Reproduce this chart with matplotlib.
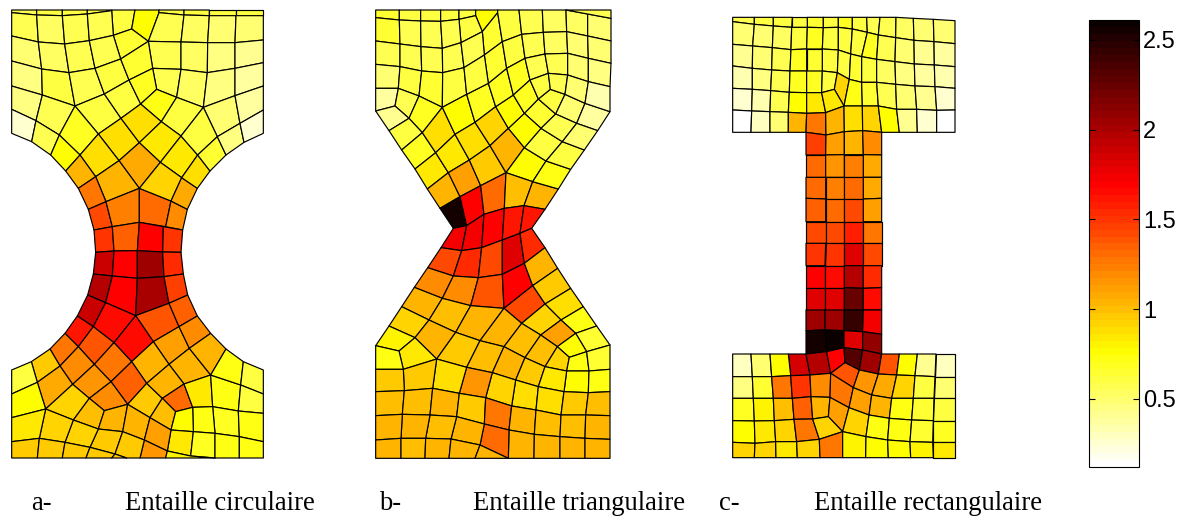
import matplotlib
matplotlib.use("Agg")
import matplotlib.pyplot as plt
import numpy as np
from matplotlib.collections import PolyCollection
from matplotlib.colors import ListedColormap, Normalize
from matplotlib.cm import ScalarMappable

# ---- data: mesh cells (node coordinates in 1/3 pixel units) and the field value of each cell ----
a_top_cells = [
 [(35,30),(110,30),(110,45),(35,38)],[(110,30),(187,30),(187,47),(110,45)],[(187,30),(262,30),(262,42),(187,47)],
 [(262,30),(335,30),(335,32),(262,42)],[(335,32),(335,30),(405,30),(395,87),(340,106)],[(405,30),(477,30),(477,38),(445,124),(395,87)],
 [(477,30),(552,30),(552,45),(477,38)],[(552,30),(628,30),(628,47),(552,45)],[(628,30),(708,30),(708,47),(628,47)],
 [(708,30),(790,30),(790,47),(708,47)],
 [(35,38),(110,45),(115,126),(35,108)],[(110,45),(187,47),(194,132),(115,126)],[(187,47),(262,42),(268,122),(194,132)],
 [(262,42),(335,32),(340,106),(268,122)],[(340,106),(395,87),(445,124),(362,177)],[(477,38),(552,45),(543,126),(445,124)],
 [(552,45),(628,47),(623,128),(543,126)],[(628,47),(708,47),(705,128),(623,128)],[(708,47),(790,47),(790,120),(705,128)],
 [(35,108),(115,126),(125,207),(35,183)],[(115,126),(194,132),(207,218),(125,207)],[(194,132),(268,122),(285,205),(207,218)],
 [(268,122),(340,106),(362,177),(285,205)],[(445,124),(543,126),(543,208),(458,205)],[(543,126),(623,128),(622,218),(543,208)],
 [(623,128),(705,128),(705,205),(622,218)],[(705,128),(790,120),(790,188),(705,205)],
 [(35,183),(125,207),(127,285),(35,258)],[(125,207),(207,218),(225,318),(127,285)],[(207,218),(285,205),(313,282),(225,318)],
 [(285,205),(362,177),(387,240),(313,282)],[(362,177),(445,124),(458,205),(387,240)],[(458,205),(543,208),(530,292),(470,268)],
 [(543,208),(622,218),(610,322),(530,292)],[(622,218),(705,205),(705,287),(610,322)],[(705,205),(790,188),(790,258),(705,287)],
 [(35,258),(127,285),(108,362),(35,328)],[(127,285),(225,318),(178,405),(108,362)],[(225,318),(313,282),(363,355),(295,402)],
 [(313,282),(387,240),(422,312),(363,355)],[(387,240),(458,205),(470,268),(422,312)],[(422,312),(470,268),(530,292),(484,365)],
 [(530,292),(610,322),(543,408),(484,365)],[(610,322),(705,287),(720,370),(652,410)],[(705,287),(790,258),(790,330),(720,370)],
 [(35,328),(108,362),(95,425),(35,400)],[(108,362),(178,405),(152,465),(95,425)],[(178,405),(225,318),(295,402),(240,465)],
 [(178,405),(240,465),(197,513),(152,465)],[(295,402),(363,355),(418,428),(357,482)],[(363,355),(422,312),(484,365),(418,428)],
 [(240,465),(295,402),(357,482),(287,530)],[(197,513),(240,465),(287,530),(235,565)],[(418,428),(484,365),(543,408),(481,487)],
 [(357,482),(418,428),(481,487),(418,565)],[(287,530),(357,482),(418,565),(318,605)],[(235,565),(287,530),(318,605),(265,628)],
 [(265,628),(318,605),(337,680),(282,690)],[(318,605),(418,565),(418,667),(337,680)],[(418,565),(513,603),(497,680),(418,667)],
 [(513,603),(562,628),(548,690),(497,680)],[(481,487),(543,408),(593,465),(545,533)],[(418,565),(481,487),(545,533),(513,603)],
 [(513,603),(545,533),(592,565),(562,628)],[(543,408),(610,322),(652,410),(593,465)],[(545,533),(593,465),(630,513),(592,565)],
 [(593,465),(652,410),(678,465),(630,513)],[(652,410),(720,370),(732,427),(678,465)],[(720,370),(790,330),(790,400),(732,427)],
]
a_top_values = [.58,.62,.6,.6,.6,.75,.6,.6,.6,.6,
 .55,.52,.55,.58,.65,.55,.52,.5,.48,
 .48,.52,.55,.57,.55,.52,.47,.43,
 .45,.6,.55,.6,.63,.57,.52,.47,.38,
 .45,.57,.6,.62,.7,.73,.6,.5,.37,
 .27,.55,.7,.75,.87,.87,.88,1.03,.85,
 1.08,1.03,1.25,1.42,1.22,1.3,1.18,.83,.92,1.08,.62,.88,.63,.45,.25]

a_bottom_cells = [
 [(282,0),(337,-10),(342,63),(287,67)],[(337,-10),(418,-23),(412,62),(342,63)],[(418,-23),(490,-10),(488,66),(412,62)],[(490,-10),(548,0),(543,67),(488,66)],
 [(287,67),(342,63),(337,138),(280,132)],[(342,63),(412,62),(412,145),(337,138)],[(412,62),(488,66),(492,140),(412,145)],[(488,66),(543,67),(550,132),(492,140)],
 [(280,132),(337,138),(317,218),(263,195)],[(337,138),(412,145),(407,257),(317,218)],[(412,145),(492,140),(507,220),(407,257)],[(492,140),(550,132),(563,195),(507,220)],
 [(263,195),(317,218),(280,290),(232,258)],[(317,218),(407,257),(342,338),(280,290)],[(407,257),(507,220),(537,290),(460,335)],[(507,220),(563,195),(592,258),(537,290)],
 [(407,257),(460,335),(395,395),(342,338)],[(232,258),(280,290),(235,350),(195,310)],[(280,290),(342,338),(283,403),(235,350)],[(342,338),(395,395),(333,455),(283,403)],
 [(460,335),(537,290),(568,355),(507,403)],[(537,290),(592,258),(632,310),(568,355)],[(395,395),(460,335),(507,403),(440,460)],[(507,403),(568,355),(632,435),(552,462)],
 [(568,355),(632,310),(678,357),(632,435)],[(195,310),(235,350),(180,408),(150,357)],[(235,350),(283,403),(218,463),(180,408)],[(283,403),(333,455),(268,505),(218,463)],
 [(333,455),(395,395),(440,460),(383,523)],[(333,455),(383,523),(313,542),(268,505)],[(150,357),(180,408),(112,457),(94,395)],[(94,395),(112,457),(35,492),(35,420)],
 [(180,408),(218,463),(137,537),(112,457)],[(112,457),(137,537),(35,563),(35,492)],[(218,463),(268,505),(220,570),(137,537)],[(268,505),(313,542),(295,597),(220,570)],
 [(313,542),(383,523),(368,605),(295,597)],[(383,523),(440,460),(487,505),(450,563)],[(383,523),(450,563),(433,630),(368,605)],[(440,460),(507,403),(552,462),(487,505)],
 [(487,505),(552,462),(578,532),(527,545)],[(487,505),(527,545),(513,600),(450,563)],[(552,462),(632,435),(638,530),(578,532)],[(632,435),(722,465),(715,543),(638,530)],
 [(678,357),(730,395),(722,465),(632,435)],[(730,395),(790,420),(790,492),(722,465)],[(722,465),(790,492),(790,550),(715,543)],[(638,530),(715,543),(718,620),(645,610)],
 [(715,543),(790,550),(790,635),(718,620)],[(578,532),(638,530),(645,610),(580,605)],[(527,545),(578,532),(580,605),(513,600)],[(513,600),(580,605),(572,678),(502,663)],
 [(580,605),(645,610),(645,684),(572,678)],[(645,610),(718,620),(718,684),(645,684)],[(718,620),(790,635),(790,684),(718,684)],[(450,563),(513,600),(502,663),(433,630)],
 [(433,630),(502,663),(497,684),(420,684)],[(295,597),(368,605),(345,672),(270,652)],[(368,605),(433,630),(420,684),(380,684),(345,672)],[(220,570),(295,597),(270,652),(195,637)],
 [(137,537),(220,570),(195,637),(118,625)],[(35,563),(137,537),(118,625),(35,635)],[(35,635),(118,625),(112,684),(35,684)],[(118,625),(195,637),(187,684),(112,684)],
 [(195,637),(270,652),(258,684),(187,684)],[(270,652),(345,672),(335,684),(258,684)],[(345,672),(380,684),(335,684)],
 [(502,663),(572,678),(645,684),(497,684)],
]
a_bottom_values = [1.5,1.35,1.68,1.5, 1.9,1.7,2.05,1.55, 1.95,1.68,2.0,1.45, 1.9,1.65,1.38,1.35,
 1.65,1.6,1.4,1.28, 1.12,1.2,1.03,1.03, 1.02,1.25,1.2,1.15, 1.35,1.2,.95,.6,
 1.07,.75,.93,1.0, 1.05,.95,1.05,1.03, 1.3,.98,.85,.72, .72,.6,.62,.7,
 .74,.73,.78,.85, .68,.72,.74,1.1, 1.15,.95,.95,.92, .93,.85,.95,.95, .95,.95,.95, .82]

b_top_cells = [
 [(32,30),(103,30),(103,60),(32,53)],[(103,30),(167,30),(167,63),(103,60)],[(167,30),(227,30),(227,64),(167,63)],[(227,30),(282,30),(282,58),(227,64)],
 [(282,30),(332,30),(332,47),(282,58)],[(332,30),(398,30),(398,38),(352,95),(332,47)],[(282,58),(332,47),(352,95),(288,128)],
 [(32,53),(103,60),(105,132),(32,123)],[(103,60),(167,63),(168,140),(105,132)],[(167,63),(227,64),(232,145),(168,140)],[(227,64),(282,58),(288,128),(232,145)],
 [(32,123),(105,132),(105,200),(32,193)],[(105,132),(168,140),(170,213),(105,200)],[(168,140),(232,145),(233,218),(170,213)],[(232,145),(288,128),(297,203),(233,218)],
 [(32,193),(105,200),(100,265),(32,265)],[(105,200),(170,213),(162,288),(100,265)],[(170,213),(233,218),(232,322),(162,288)],[(233,218),(297,203),(305,283),(232,322)],
 [(32,265),(100,265),(90,318),(32,333)],[(100,265),(162,288),(132,355),(90,318)],[(162,288),(232,322),(172,398),(132,355)],[(32,333),(90,318),(132,355),(72,392)],
 [(72,392),(132,355),(172,398),(110,450)],[(110,450),(172,398),(212,458),(150,507)],[(150,507),(212,458),(250,518),(187,567)],[(187,567),(250,518),(285,590),(225,625)],
 [(225,625),(285,590),(305,677),(265,685)],[(172,398),(232,322),(270,403),(212,458)],[(212,458),(270,403),(313,480),(250,518)],[(250,518),(313,480),(347,557),(285,590)],
 [(285,590),(347,557),(357,643),(305,677)],[(232,322),(305,283),(330,367),(270,403)],[(270,403),(330,367),(375,437),(313,480)],[(313,480),(375,437),(423,518),(347,557)],
 [(347,557),(423,518),(418,625),(357,643)],[(305,283),(370,250),(392,320),(330,367)],[(330,367),(392,320),(430,385),(375,437)],[(375,437),(430,385),(478,443),(423,518)],
 [(423,518),(478,443),(543,483),(503,545)],[(423,518),(503,545),(477,617),(418,625)],[(503,545),(580,567),(540,628),(477,617)],[(503,545),(543,483),(617,508),(580,567)],
 [(478,443),(528,385),(592,425),(543,483)],[(543,483),(592,425),(658,450),(617,508)],[(478,340),(520,297),(572,342),(528,385)],[(430,385),(478,340),(528,385),(478,443)],
 [(392,320),(445,285),(478,340),(430,385)],[(370,250),(425,205),(445,285),(392,320)],[(520,297),(556,268),(600,283),(572,342)],[(600,283),(660,310),(635,370),(572,342)],
 [(660,310),(735,335),(698,392),(635,370)],[(572,342),(635,370),(592,425),(528,385)],[(635,370),(698,392),(658,450),(592,425)],
 [(352,95),(398,38),(412,125),(358,165)],[(358,165),(412,125),(425,205),(370,250)],[(288,128),(352,95),(358,165),(297,203)],[(297,203),(358,165),(370,250),(305,283)],
 [(398,38),(398,30),(462,30),(470,103),(412,125)],[(412,125),(470,103),(480,175),(425,205)],[(425,205),(480,175),(495,240),(445,285)],[(445,285),(495,240),(520,297),(478,340)],
 [(462,30),(532,30),(535,97),(470,103)],[(470,103),(535,97),(540,162),(480,175)],[(480,175),(540,162),(550,220),(495,240)],[(495,240),(550,220),(556,268),(520,297)],
 [(532,30),(603,30),(605,95),(535,97)],[(535,97),(605,95),(608,160),(540,162)],[(540,162),(608,160),(608,225),(550,220)],[(550,220),(608,225),(600,283),(556,268)],
 [(603,30),(668,42),(668,108),(605,95)],[(605,95),(668,108),(670,175),(608,160)],[(608,160),(670,175),(670,245),(608,225)],[(608,225),(670,245),(660,310),(600,283)],
 [(668,42),(738,55),(738,123),(668,108)],[(668,108),(738,123),(738,190),(670,175)],[(670,175),(738,190),(735,260),(670,245)],[(670,245),(735,260),(735,335),(660,310)],
 [(603,30),(738,30),(738,55),(668,42)],
]
b_top_values = [.65,.62,.62,.6,.6,.75,.6,.65,.55,.55,.55,.55,.55,.57,.55,.5,.6,.65,.6,.38,.55,.68,.4,
 .6,.68,.85,1.05,2.55,.88,.85,1.12,1.7,.75,.88,.97,1.3,.7,.9,1.03,.78,.98,1.03,.74,
 .62,.6,.65,.78,.75,.68,.6,.5,.38,.55,.48,.65,.65,.58,.62,.62,.62,.68,.68,.55,.55,.58,.62,
 .52,.52,.55,.58,.52,.5,.5,.48,.5,.48,.45,.35,.55]

b_bottom_cells = [
 [(265,10),(305,2),(290,77),(228,68)],[(305,2),(357,-32),(350,68),(290,77)],[(357,-32),(418,-50),(412,45),(350,68)],[(418,-50),(477,-58),(465,25),(412,45)],[(477,-58),(540,-47),(500,10),(465,25)],
 [(228,68),(290,77),(265,153),(188,128)],[(290,77),(350,68),(340,158),(265,153)],[(350,68),(412,45),(412,148),(340,158)],[(412,45),(465,25),(478,115),(412,148)],[(465,25),(500,10),(540,68),(478,115)],
 [(188,128),(265,153),(232,220),(148,187)],[(265,153),(340,158),(317,242),(232,220)],[(340,158),(412,148),(417,250),(317,242)],[(412,148),(478,115),(503,182),(417,250)],[(478,115),(540,68),(578,130),(503,182)],
 [(503,182),(578,130),(617,190),(540,237)],[(417,250),(503,182),(540,237),(470,295)],[(540,237),(617,190),(655,245),(588,285)],[(470,295),(540,237),(588,285),(527,330)],[(588,285),(655,245),(695,303),(632,325)],
 [(527,330),(588,285),(632,325),(577,365)],[(632,325),(695,303),(735,360),(665,380)],[(577,365),(632,325),(665,380),(613,397)],[(148,187),(232,220),(192,285),(110,245)],[(232,220),(317,242),(272,322),(192,285)],
 [(317,242),(417,250),(345,347),(272,322)],[(417,250),(470,295),(417,365),(345,347)],[(470,295),(527,330),(480,398),(417,365)],[(527,330),(577,365),(540,425),(480,398)],[(110,245),(192,285),(150,338),(72,303)],
 [(72,303),(150,338),(102,378),(32,362)],[(192,285),(272,322),(215,402),(150,338)],[(150,338),(215,402),(115,433),(102,378)],[(32,362),(102,378),(115,433),(32,433)],[(272,322),(345,347),(305,427),(215,402)],
 [(345,347),(417,365),(382,443),(305,427)],[(417,365),(480,398),(452,465),(382,443)],[(480,398),(540,425),(520,485),(452,465)],[(577,365),(613,397),(605,438),(540,425)],[(613,397),(665,380),(672,438),(605,438)],
 [(665,380),(735,360),(735,433),(672,438)],[(605,438),(672,438),(670,503),(597,500)],[(672,438),(735,433),(735,500),(670,503)],[(540,425),(605,438),(597,500),(520,485)],[(452,465),(520,485),(513,555),(440,543)],
 [(382,443),(452,465),(440,543),(362,518)],[(305,427),(382,443),(362,518),(283,505)],[(215,402),(305,427),(283,505),(203,490)],[(115,433),(215,402),(203,490),(118,497)],[(32,433),(115,433),(118,497),(32,500)],
 [(32,500),(118,497),(112,568),(32,572)],[(118,497),(203,490),(195,570),(112,568)],[(203,490),(283,505),(275,575),(195,570)],[(283,505),(362,518),(358,597),(275,575)],[(362,518),(440,543),(432,615),(358,597)],
 [(440,543),(513,555),(508,628),(432,615)],[(520,485),(597,500),(588,570),(513,555)],[(597,500),(670,503),(662,570),(588,570)],[(670,503),(735,500),(735,572),(662,570)],[(513,555),(588,570),(585,635),(508,628)],
 [(588,570),(662,570),(660,640),(585,635)],[(662,570),(735,572),(735,643),(660,640)],[(432,615),(508,628),(507,700),(430,700)],[(508,628),(585,635),(585,700),(507,700)],[(585,635),(660,640),(660,700),(585,700)],
 [(660,640),(735,643),(735,700),(660,700)],[(358,597),(432,615),(430,700),(345,660)],[(275,575),(358,597),(345,660),(258,642)],[(195,570),(275,575),(258,642),(182,640)],[(112,568),(195,570),(182,640),(108,640)],
 [(32,572),(112,568),(108,640),(32,645)],[(32,645),(108,640),(108,700),(32,700)],[(108,640),(182,640),(180,700),(108,700)],[(182,640),(258,642),(252,700),(180,700)],[(258,642),(345,660),(330,700),(252,700)],
 [(345,660),(430,700),(330,700)],
]
b_bottom_values = [1.75,1.72,1.68,1.6,1.62, 1.42,1.55,1.42,1.83,1.55, 1.2,1.18,1.38,1.68,1.05, .95,1.42,.88,.9,.72,
 1.13,.65,.75,1.03,.98, 1.05,1.05,1.0,.98,.93, .82,1.03,.85,.72,.95, .98,1.02,.95,.92,.73,
 .65,.75,.74,.85,.88, .93,1.15,.87,.97,.95, 1.0,1.0,1.05,.97,1.25, 1.02,.88,.95,1.0,1.0,
 1.0,1.02,1.03,1.03,1.03, 1.03,1.3,1.03,.98,1.02, 1.03,1.03,1.0,1.02,1.03, 1.03]

c_top_cells = [
 [(38,37),(103,37),(103,58),(38,50)],[(103,37),(160,37),(160,63),(103,58)],[(160,37),(217,37),(215,67),(160,63)],[(217,37),(262,37),(262,67),(215,67)],
 [(262,37),(310,37),(310,68),(262,67)],[(310,37),(355,37),(355,67),(310,68)],[(355,37),(397,37),(397,72),(355,67)],[(397,37),(440,37),(442,82),(397,72)],
 [(440,37),(480,37),(475,90),(442,82)],[(480,37),(528,37),(527,98),(475,90)],[(528,37),(580,40),(582,106),(527,98)],[(580,40),(640,43),(642,110),(582,106)],[(640,43),(705,47),(705,116),(642,110)],
 [(38,50),(103,58),(98,123),(38,118)],[(103,58),(160,63),(157,128),(98,123)],[(160,63),(215,67),(213,134),(157,128)],[(215,67),(262,67),(260,132),(213,134)],[(262,67),(310,68),(307,132),(260,132)],
 [(310,68),(355,67),(355,135),(307,132)],[(355,67),(397,72),(392,147),(355,135)],[(397,72),(442,82),(425,155),(392,147)],[(442,82),(475,90),(470,163),(425,155)],[(475,90),(527,98),(525,170),(470,163)],
 [(527,98),(582,106),(583,177),(525,170)],[(582,106),(642,110),(643,180),(583,177)],[(642,110),(705,116),(705,185),(643,180)],
 [(38,118),(98,123),(97,190),(38,183)],[(98,123),(157,128),(155,195),(97,190)],[(157,128),(213,134),(210,198),(155,195)],[(213,134),(260,132),(260,198),(210,198)],[(260,132),(307,132),(307,198),(260,198)],
 [(307,132),(355,135),(352,203),(307,198)],[(355,135),(392,147),(388,223),(352,203)],[(392,147),(425,155),(425,232),(388,223)],[(425,155),(470,163),(470,232),(425,232)],[(470,163),(525,170),(527,238),(470,232)],
 [(525,170),(583,177),(585,243),(527,238)],[(583,177),(643,180),(645,245),(585,243)],[(643,180),(705,185),(705,250),(645,245)],
 [(38,183),(97,190),(97,253),(38,250)],[(97,190),(155,195),(152,257),(97,253)],[(155,195),(210,198),(208,262),(152,257)],[(210,198),(260,198),(260,263),(208,262)],[(260,198),(307,198),(305,263),(260,263)],
 [(307,198),(352,203),(343,253),(305,263)],[(352,203),(388,223),(372,303),(343,253)],[(388,223),(425,232),(427,303),(372,303)],[(425,232),(470,232),(475,303),(427,303)],[(470,232),(527,238),(530,313),(475,303)],
 [(527,238),(585,243),(590,313),(530,313)],[(585,243),(645,245),(650,316),(590,313)],[(645,245),(705,250),(705,315),(650,316)],
 [(38,250),(97,253),(95,318),(38,315)],[(97,253),(152,257),(150,320),(95,318)],[(152,257),(208,262),(205,322),(150,320)],[(208,262),(260,263),(260,325),(205,322)],[(260,263),(305,263),(317,323),(260,325)],
 [(305,263),(343,253),(372,303),(317,323)],
 [(38,315),(95,318),(93,382),(38,382)],[(95,318),(150,320),(150,382),(93,382)],[(150,320),(205,322),(205,382),(150,382)],[(205,322),(260,325),(258,382),(205,382)],[(260,325),(317,323),(318,390),(258,382)],
 [(317,323),(372,303),(373,380),(318,390)],[(372,303),(427,303),(428,377),(373,380)],[(427,303),(475,303),(485,382),(428,377)],[(475,303),(530,313),(538,382),(485,382)],[(530,313),(590,313),(592,382),(538,382)],
 [(590,313),(650,316),(650,382),(592,382)],[(650,316),(705,315),(705,382),(650,382)],
 [(258,382),(318,390),(317,450),(258,450)],[(318,390),(373,380),(373,449),(317,450)],[(373,380),(428,377),(430,449),(373,449)],[(428,377),(485,382),(485,450),(430,449)],
 [(258,450),(317,450),(317,517),(258,517)],[(317,450),(373,449),(373,517),(317,517)],[(373,449),(430,449),(430,517),(373,517)],[(430,449),(485,450),(485,517),(430,517)],
 [(258,517),(317,517),(317,582),(258,580)],[(317,517),(373,517),(373,582),(317,582)],[(373,517),(430,517),(430,582),(373,582)],[(430,517),(485,517),(485,580),(430,582)],
 [(258,580),(317,582),(317,650),(258,650)],[(317,582),(373,582),(373,650),(317,650)],[(373,582),(430,582),(430,650),(373,650)],[(430,582),(485,580),(485,650),(430,650)],
]
c_top_values = [.58,.6,.6,.6,.65,.6,.7,.6,.58,.55,.52,.5,.48,
 .5,.5,.52,.6,.7,.6,.6,.62,.68,.55,.48,.42,.38,
 .42,.5,.55,.68,.65,.6,.62,.65,.6,.52,.45,.38,.32,
 .35,.45,.58,.68,.7,.62,.93,.72,.65,.55,.48,.42,.25,
 .25,.35,.58,.75,.85,.85,
 .12,.28,.5,1.02,1.25,1.03,.88,.92,.75,.42,.25,.12,
 1.45,1.1,1.05,1.2, 1.3,1.15,1.22,1.08, 1.3,1.22,1.3,1.07, 1.35,1.3,1.42,1.13]

c_bottom_cells = [
 [(258,-40),(317,-40),(317,25),(258,25)],[(317,-40),(373,-40),(373,25),(317,25)],[(373,-40),(430,-40),(430,25),(373,25)],[(430,-40),(485,-40),(485,25),(430,25)],
 [(258,25),(317,25),(315,92),(258,92)],[(317,25),(373,25),(373,92),(315,92)],[(373,25),(430,25),(430,92),(373,92)],[(430,25),(485,25),(485,92),(430,92)],
 [(258,92),(315,92),(315,158),(258,158)],[(315,92),(373,92),(373,158),(315,158)],[(373,92),(430,92),(430,160),(373,158)],[(430,92),(485,92),(485,158),(430,160)],
 [(258,158),(315,158),(315,225),(258,225)],[(315,158),(373,158),(373,225),(315,225)],[(373,158),(430,160),(430,225),(373,225)],[(430,160),(485,158),(485,225),(430,225)],
 [(258,225),(315,225),(315,285),(258,287)],[(315,225),(373,225),(372,287),(315,285)],[(373,225),(430,225),(428,290),(372,287)],[(430,225),(485,225),(485,298),(428,290)],
 [(258,287),(315,285),(320,350),(258,357)],[(315,285),(372,287),(372,338),(320,350)],[(372,287),(428,290),(428,345),(372,338)],[(428,290),(485,298),(485,357),(428,345)],
 [(205,357),(258,357),(270,420),(212,422)],[(258,357),(320,350),(332,415),(270,420)],[(320,350),(372,338),(375,383),(332,415)],[(372,338),(428,345),(418,405),(375,383)],[(428,345),(485,357),(475,417),(418,405)],
 [(485,357),(538,357),(530,420),(475,417)],[(538,357),(592,357),(585,422),(530,420)],[(592,357),(648,357),(645,425),(585,422)],[(648,357),(705,357),(705,425),(645,425)],
 [(38,357),(93,357),(97,425),(38,425)],[(93,357),(150,357),(155,425),(97,425)],[(150,357),(205,357),(212,422),(155,425)],
 [(38,425),(97,425),(100,490),(38,490)],[(97,425),(155,425),(160,490),(100,490)],[(155,425),(212,422),(217,490),(160,490)],[(212,422),(270,420),(273,485),(217,490)],[(270,420),(332,415),(330,487),(273,485)],
 [(332,415),(375,383),(418,405),(400,458)],[(332,415),(400,458),(387,518),(330,487)],[(418,405),(475,417),(455,480),(400,458)],[(475,417),(530,420),(515,490),(455,480)],[(530,420),(585,422),(580,490),(515,490)],
 [(585,422),(645,425),(642,490),(580,490)],[(645,425),(705,425),(705,490),(642,490)],
 [(38,490),(100,490),(103,558),(38,557)],[(100,490),(160,490),(163,557),(103,558)],[(160,490),(217,490),(222,553),(163,557)],[(217,490),(273,485),(278,552),(222,553)],[(273,485),(330,487),(325,545),(278,552)],
 [(330,487),(387,518),(368,590),(325,545)],[(400,458),(455,480),(447,540),(387,518)],[(387,518),(447,540),(438,605),(368,590)],[(455,480),(515,490),(508,550),(447,540)],[(515,490),(580,490),(575,555),(508,550)],
 [(580,490),(642,490),(640,557),(575,555)],[(642,490),(705,490),(705,557),(640,557)],
 [(38,557),(103,558),(105,625),(38,622)],[(103,558),(163,557),(167,620),(105,625)],[(163,557),(222,553),(230,620),(167,620)],[(222,553),(278,552),(298,613),(230,620)],[(278,552),(325,545),(368,590),(298,613)],
 [(447,540),(508,550),(503,615),(438,605)],[(508,550),(575,555),(570,620),(503,615)],[(575,555),(640,557),(638,622),(570,620)],[(640,557),(705,557),(705,622),(638,622)],
 [(38,622),(105,625),(103,668),(38,668)],[(105,625),(167,620),(168,668),(103,668)],[(167,620),(230,620),(232,668),(168,668)],[(230,620),(298,613),(300,668),(232,668)],[(298,613),(368,590),(368,668),(300,668)],
 [(368,590),(438,605),(437,668),(368,668)],[(438,605),(503,615),(505,668),(437,668)],[(503,615),(570,620),(572,668),(505,668)],[(570,620),(638,622),(640,668),(572,668)],[(638,622),(705,622),(705,668),(640,668)],
]
c_bottom_values = [1.42,1.42,1.58,1.25, 1.5,1.5,1.82,1.42, 1.7,1.65,1.95,1.55, 1.82,1.8,2.25,1.65, 2.05,2.05,2.45,1.72,
 2.55,2.6,1.8,2.1, 1.85,1.97,1.7,2.3,2.05, 1.38,.75,.42,.28, .28,.48,.78,
 .45,.65,1.25,1.5,1.2, 1.38,1.25,1.15,1.07,.92, .6,.5,
 .67,.82,1.0,1.35,1.03, 1.12,1.13,.92,1.03,.73, .65,.6,
 .76,.85,.92,1.28,.9, .72,.73,.66,.68,
 .92,.92,.85,.9,1.25, .8,.78,.78,.8,.85]

panels = [
 (a_top_cells, a_top_values, (0, 0)), (a_bottom_cells, a_bottom_values, (0, 690)),
 (b_top_cells, b_top_values, (1095, 0)), (b_bottom_cells, b_bottom_values, (1095, 675)),
 (c_top_cells, c_top_values, (2160, 15)), (c_bottom_cells, c_bottom_values, (2160, 705)),
]
captions = [("a-", 31), ("Entaille circulaire", 125), ("b-", 379), ("Entaille triangulaire", 473),
            ("c-", 719), ("Entaille rectangulaire", 814)]
cbar_ticks = [0.5, 1, 1.5, 2, 2.5]
cbar_labels = ["0.5", "1", "1.5", "2", "2.5"]
vmin, vmax = 0.12, 2.61

# ---- figure ----
W, H = 1184, 517
fig = plt.figure(figsize=(W / 100, H / 100), dpi=100, facecolor="white")
ax = fig.add_axes([0, 0, 1, 1])
ax.set_xlim(0, W * 3)
ax.set_ylim(H * 3, 0)
ax.axis("off")

cmap = ListedColormap(plt.get_cmap("hot_r")(np.linspace(0, 1, 64)))
norm = Normalize(vmin, vmax)

for cells, values, (dx, dy) in panels:
    polys = [np.array(c, dtype=float) + (dx, dy) for c in cells]
    pc = PolyCollection(polys, array=np.array(values), cmap=cmap, norm=norm,
                        edgecolors="black", linewidths=0.85)
    ax.add_collection(pc)

for txt, x in captions:
    ax.text(x * 3, 510 * 3, txt, family="Liberation Serif", fontsize=19.2, color="black",
            ha="left", va="baseline")

# colorbar
cax = fig.add_axes([1089 / W, 1 - 467 / H, 50 / W, 447 / H])
cb = fig.colorbar(ScalarMappable(norm=norm, cmap=cmap), cax=cax, ticks=cbar_ticks)
cb.set_ticklabels(cbar_labels)
cb.outline.set_linewidth(0.8)
cax.tick_params(axis="y", direction="in", length=4, width=0.8, left=True, right=True, pad=3,
                labelsize=17)
for t in cax.get_yticklabels():
    t.set_family("Liberation Sans")

fig.savefig("out.png", dpi=100)
